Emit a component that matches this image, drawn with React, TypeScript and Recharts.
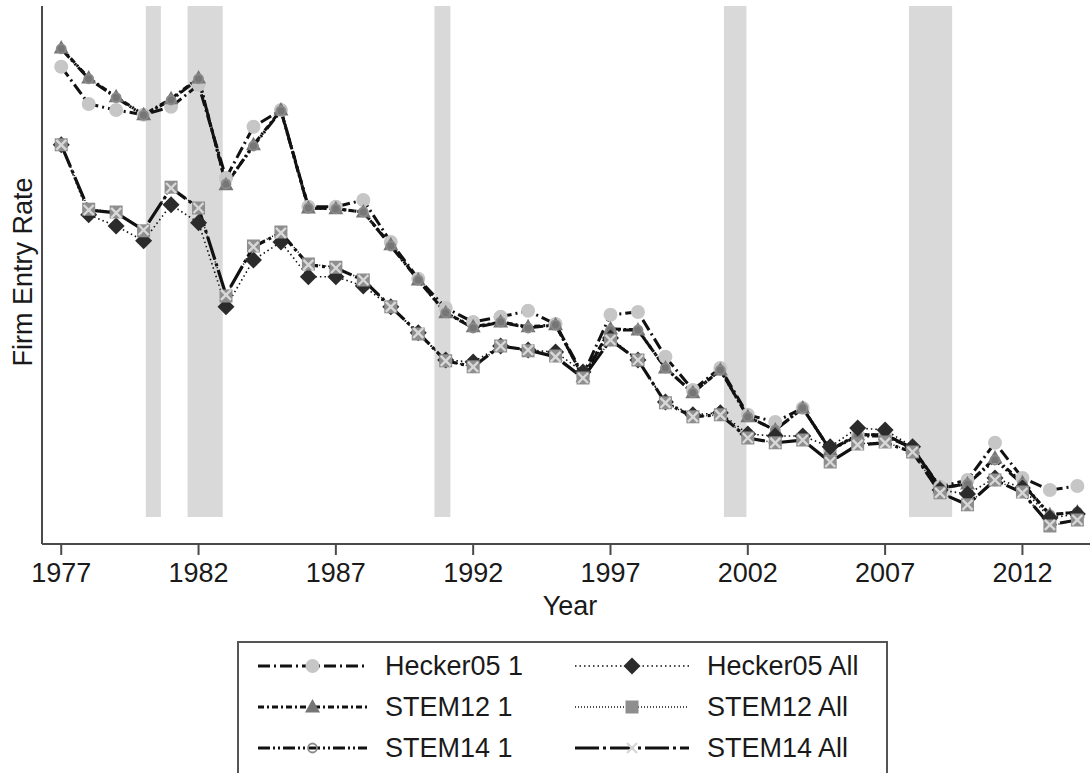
import React from "react";
import { LineChart, Line, XAxis, YAxis, ReferenceArea } from "recharts";

const years = [1977,1978,1979,1980,1981,1982,1983,1984,1985,1986,1987,1988,1989,1990,1991,1992,1993,1994,1995,1996,1997,1998,1999,2000,2001,2002,2003,2004,2005,2006,2007,2008,2009,2010,2011,2012,2013,2014];

const hecker05One = [15.83,14.9,14.75,14.63,14.83,15.38,13.05,14.33,14.75,12.33,12.33,12.5,11.45,10.53,9.8,9.45,9.58,9.73,9.4,8.13,9.63,9.7,8.58,7.75,8.3,7.13,6.95,7.3,6.25,6.63,6.63,6.3,5.33,5.5,6.43,5.55,5.25,5.35];
const stem12One = [16.3,15.55,15.08,14.63,15.03,15.55,12.88,13.88,14.75,12.3,12.28,12.2,11.38,10.5,9.68,9.33,9.45,9.33,9.38,8.08,9.28,9.25,8.3,7.68,8.25,7.08,6.75,7.3,6.25,6.63,6.63,6.3,5.3,5.4,6.05,5.43,4.63,4.7];
const stem14One = [16.28,15.53,15.06,14.62,15.0,15.53,12.9,13.85,14.73,12.3,12.28,12.2,11.35,10.5,9.68,9.3,9.45,9.3,9.38,8.08,9.25,9.25,8.3,7.68,8.25,7.08,6.75,7.3,6.25,6.6,6.6,6.3,5.3,5.4,6.0,5.4,4.63,4.7];
const hecker05All = [13.88,12.13,11.85,11.48,12.38,11.93,9.83,11.0,11.45,10.58,10.58,10.35,9.83,9.18,8.5,8.45,8.85,8.75,8.7,8.2,9.05,8.5,7.45,7.13,7.18,6.65,6.6,6.6,6.33,6.8,6.75,6.33,5.25,5.15,5.55,5.3,4.55,4.65];
const stem12All = [13.88,12.27,12.2,11.73,12.82,12.3,10.1,11.35,11.7,10.9,10.82,10.5,9.83,9.15,8.48,8.33,8.85,8.73,8.6,8.05,9.0,8.5,7.43,7.08,7.13,6.55,6.43,6.5,5.95,6.4,6.45,6.2,5.18,4.88,5.5,5.2,4.35,4.5];
const stem14All = [13.88,12.25,12.18,11.75,12.8,12.3,10.13,11.33,11.68,10.88,10.8,10.5,9.83,9.18,8.48,8.33,8.85,8.75,8.58,8.05,9.0,8.5,7.43,7.08,7.13,6.55,6.43,6.5,5.95,6.38,6.43,6.2,5.18,4.88,5.5,5.18,4.38,4.5];

const xTicks = [1977,1982,1987,1992,1997,2002,2007,2012];
const recessionStarts = [1980.08,1981.6,1990.59,2001.13,2007.87];
const recessionEnds = [1980.63,1982.88,1991.17,2001.95,2009.44];

const data = years.map((y, i) => ({
  year: y,
  hecker05One: hecker05One[i],
  stem12One: stem12One[i],
  stem14One: stem14One[i],
  hecker05All: hecker05All[i],
  stem12All: stem12All[i],
  stem14All: stem14All[i],
}));

const FONT = '"Liberation Sans", Arial, Helvetica, sans-serif';
const AXIS = "#4a4a4a";
const LINE = "#111";

type ShapeName = "circle" | "triangle" | "ring" | "diamond" | "square" | "cross";

function Marker({ shape, cx, cy }: { shape: ShapeName; cx: number; cy: number }) {
  switch (shape) {
    case "circle":
      return <circle cx={cx} cy={cy} r={7} fill="#c6c6c6" />;
    case "triangle":
      return <polygon points={`${cx},${cy - 8} ${cx - 7.5},${cy + 5.5} ${cx + 7.5},${cy + 5.5}`} fill="#767676" />;
    case "ring":
      return <circle cx={cx} cy={cy} r={4.5} fill="none" stroke="#8a8a8a" strokeWidth={1.8} />;
    case "diamond":
      return <polygon points={`${cx},${cy - 8.5} ${cx + 8.5},${cy} ${cx},${cy + 8.5} ${cx - 8.5},${cy}`} fill="#2b2b2b" />;
    case "square":
      return <rect x={cx - 6.5} y={cy - 6.5} width={13} height={13} fill="#8e8e8e" />;
    case "cross":
      return (
        <g stroke="#d8d8d8" strokeWidth={2.4}>
          <line x1={cx - 5} y1={cy - 5} x2={cx + 5} y2={cy + 5} />
          <line x1={cx - 5} y1={cy + 5} x2={cx + 5} y2={cy - 5} />
        </g>
      );
  }
  return null;
}

const makeDot = (shape: ShapeName) => (props: any) => {
  const { cx, cy, index } = props;
  if (cx == null || cy == null) return <g key={`${shape}-${index}`} />;
  return (
    <g key={`${shape}-${index}`}>
      <Marker shape={shape} cx={cx} cy={cy} />
    </g>
  );
};

const seriesDefs: { key: string; name: string; shape: ShapeName; dash: string; width: number }[] = [
  { key: "hecker05One", name: "Hecker05 1", shape: "circle", dash: "12 4 2 4", width: 3 },
  { key: "stem12One", name: "STEM12 1", shape: "triangle", dash: "6 3 2 3", width: 3 },
  { key: "stem14One", name: "STEM14 1", shape: "ring", dash: "12 3 2 3 2 3", width: 3 },
  { key: "hecker05All", name: "Hecker05 All", shape: "diamond", dash: "1.5 3", width: 1.6 },
  { key: "stem12All", name: "STEM12 All", shape: "square", dash: "1 2", width: 1.6 },
  { key: "stem14All", name: "STEM14 All", shape: "cross", dash: "24 4 3 4", width: 3.2 },
];

function LegendItem({ def, left, top, sampleW }: { def: typeof seriesDefs[number]; left: number; top: number; sampleW: number }) {
  return (
    <div style={{ position: "absolute", left, top, height: 30, display: "flex", alignItems: "center" }}>
      <svg width={sampleW} height={30} style={{ display: "block" }}>
        <line x1={0} y1={15} x2={sampleW} y2={15} stroke={LINE} strokeWidth={def.width} strokeDasharray={def.dash} />
        <Marker shape={def.shape} cx={sampleW / 2} cy={15} />
      </svg>
      <span style={{ marginLeft: 18, fontFamily: FONT, fontSize: 27, color: "#1a1a1a", whiteSpace: "nowrap" }}>{def.name}</span>
    </div>
  );
}

export default function App() {
  const rowTops = [651, 692, 733];
  return (
    <div style={{ position: "absolute", left: 0, top: 0, width: 1090, height: 773, overflow: "hidden", background: "#fff" }}>
      <LineChart
        width={1090}
        height={773}
        data={data}
        margin={{ top: 6, right: 0, left: 0, bottom: 149 }}
      >
        {recessionStarts.map((s, i) => (
          <ReferenceArea key={`rec-${i}`} x1={s} x2={recessionEnds[i]} y1={4.575} y2={17.35} fill="#d9d9d9" fillOpacity={1} stroke="none" ifOverflow="hidden" />
        ))}
        <XAxis
          dataKey="year"
          type="number"
          domain={[1976.3, 2014.46]}
          ticks={xTicks}
          allowDataOverflow
          height={80}
          tickSize={11}
          tickMargin={8}
          axisLine={{ stroke: AXIS, strokeWidth: 2 }}
          tickLine={{ stroke: AXIS, strokeWidth: 2 }}
          tick={{ fill: "#1a1a1a", fontSize: 27, fontFamily: FONT }}
          label={{
            content: () => (
              <text x={570} y={606} textAnchor="middle" dominantBaseline="central" fill="#1a1a1a" fontSize={27} fontFamily={FONT}>
                Year
              </text>
            ),
          }}
        />
        <YAxis
          type="number"
          domain={[3.9, 17.35]}
          allowDataOverflow
          width={42}
          tick={false}
          tickLine={false}
          axisLine={{ stroke: AXIS, strokeWidth: 2 }}
          label={{
            content: () => (
              <text x={23} y={272} transform="rotate(-90 23 272)" textAnchor="middle" dominantBaseline="central" fill="#1a1a1a" fontSize={27} fontFamily={FONT}>
                Firm Entry Rate
              </text>
            ),
          }}
        />
        {seriesDefs.map((d) => (
          <Line
            key={d.key}
            dataKey={d.key}
            name={d.name}
            type="linear"
            stroke={LINE}
            strokeWidth={d.width}
            strokeDasharray={d.dash}
            dot={makeDot(d.shape)}
            activeDot={false}
            isAnimationActive={false}
          />
        ))}
      </LineChart>
      <div style={{ position: "absolute", left: 237, top: 641, width: 651, height: 160, border: "2px solid #555", boxSizing: "border-box", background: "#fff" }} />
      {seriesDefs.slice(0, 3).map((d, i) => (
        <LegendItem key={d.key} def={d} left={258} top={rowTops[i]} sampleW={109} />
      ))}
      {seriesDefs.slice(3).map((d, i) => (
        <LegendItem key={d.key} def={d} left={575} top={rowTops[i]} sampleW={114} />
      ))}
    </div>
  );
}
